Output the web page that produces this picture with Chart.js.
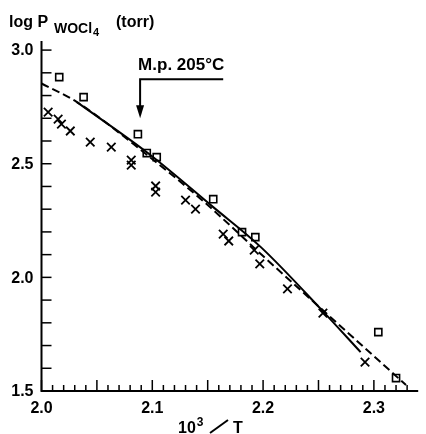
<!DOCTYPE html>
<html>
<head>
<meta charset="utf-8">
<script src="https://cdn.jsdelivr.net/npm/chart.js@4.4.0/dist/chart.umd.min.js"></script>
<style>
  html, body { margin: 0; padding: 0; background: #fff; }
  #wrap { width: 426px; height: 434px; }
</style>
</head>
<body>
<div id="wrap"><canvas id="vp"></canvas></div>
<script>
// measured points, crosses
const crossX = [2.006, 2.015, 2.018, 2.026, 2.044, 2.063, 2.081, 2.081, 2.103, 2.103,
                2.130, 2.139, 2.164, 2.169, 2.192, 2.197, 2.222, 2.254, 2.292];
const crossY = [2.727, 2.696, 2.674, 2.644, 2.595, 2.573, 2.516, 2.494, 2.402, 2.375,
                2.340, 2.300, 2.190, 2.160, 2.120, 2.059, 1.949, 1.843, 1.627];
// measured points, squares
const squareX = [2.016, 2.038, 2.087, 2.095, 2.104, 2.155, 2.181, 2.193, 2.304, 2.320];
const squareY = [2.881, 2.793, 2.630, 2.547, 2.529, 2.344, 2.199, 2.177, 1.759, 1.557];
// curves
const solidX = [2.032, 2.096, 2.155, 2.198, 2.253, 2.288];
const solidY = [2.771, 2.547, 2.309, 2.133, 1.856, 1.671];
const dashX = [2.000, 2.032, 2.096, 2.147, 2.199, 2.329];
const dashY = [2.853, 2.771, 2.536, 2.331, 2.098, 1.526];
// axes
const xMajor = [2.0, 2.1, 2.2, 2.3];
const xMajorLabels = ['2.0', '2.1', '2.2', '2.3'];
const yMajor = [1.5, 2.0, 2.5, 3.0];
const yMajorLabels = ['1.5', '2.0', '2.5', '3.0'];
const mpX = 2.089;

const FONT = '"Liberation Sans", Arial, sans-serif';

function pts(xs, ys) {
  return xs.map((x, i) => ({ x: x, y: ys[i] }));
}

const axesPlugin = {
  id: 'axesPlugin',
  afterDraw(chart) {
    const ctx = chart.ctx;
    const xs = chart.scales.x, ys = chart.scales.y;
    const a = chart.chartArea;
    ctx.save();
    ctx.strokeStyle = '#000';
    ctx.fillStyle = '#000';
    ctx.lineWidth = 2;
    // axis lines
    ctx.beginPath();
    ctx.moveTo(a.left, a.top);
    ctx.lineTo(a.left, a.bottom);
    ctx.lineTo(a.right, a.bottom);
    ctx.stroke();

    // y ticks every 0.1
    ctx.lineWidth = 1.5;
    for (let i = 15; i <= 30; i++) {
      const py = ys.getPixelForValue(i / 10);
      ctx.beginPath();
      ctx.moveTo(a.left, py);
      ctx.lineTo(a.left + 10, py);
      ctx.stroke();
    }
    // x ticks every 0.01
    for (let i = 200; i <= 233; i++) {
      const px = xs.getPixelForValue(i / 100);
      const len = (i % 5 === 0) ? 11 : 6;
      ctx.beginPath();
      ctx.moveTo(px, a.bottom);
      ctx.lineTo(px, a.bottom - len);
      ctx.stroke();
    }

    ctx.font = 'bold 16px ' + FONT;
    ctx.textAlign = 'right';
    ctx.textBaseline = 'middle';
    yMajor.forEach((v, i) => {
      ctx.fillText(yMajorLabels[i], a.left - 8, ys.getPixelForValue(v) + 1);
    });
    ctx.textAlign = 'center';
    xMajor.forEach((v, i) => {
      ctx.fillText(xMajorLabels[i], xs.getPixelForValue(v), a.bottom + 18);
    });

    // x title: 10^3 / T
    ctx.textAlign = 'left';
    ctx.textBaseline = 'alphabetic';
    let tx = 178, ty = 433;
    ctx.fillText('10', tx, ty);
    tx += ctx.measureText('10').width + 1;
    ctx.font = 'bold 12px ' + FONT;
    ctx.fillText('3', tx, ty - 7);
    ctx.lineWidth = 2;
    ctx.beginPath();
    ctx.moveTo(210, ty);
    ctx.lineTo(228, ty - 13);
    ctx.stroke();
    ctx.font = 'bold 16px ' + FONT;
    ctx.fillText('T', 233, ty);

    // y title: log P_WOCl4 (torr)
    ctx.fillText('log P', 9, 27);
    ctx.font = 'bold 14px ' + FONT;
    ctx.fillText('WOCl', 54, 33);
    const w = ctx.measureText('WOCl').width;
    ctx.font = 'bold 11px ' + FONT;
    ctx.fillText('4', 54 + w + 1, 36);
    ctx.font = 'bold 16px ' + FONT;
    ctx.fillText('(torr)', 116, 27);

    // melting point arrow
    const ax = xs.getPixelForValue(mpX);
    const ayTop = ys.getPixelForValue(2.872);
    const ayTip = ys.getPixelForValue(2.70);
    const axEnd = xs.getPixelForValue(2.164);
    ctx.lineWidth = 2;
    ctx.beginPath();
    ctx.moveTo(axEnd, ayTop);
    ctx.lineTo(ax, ayTop);
    ctx.lineTo(ax, ayTip - 10);
    ctx.stroke();
    ctx.beginPath();
    ctx.moveTo(ax - 4, ayTip - 13);
    ctx.lineTo(ax + 4, ayTip - 13);
    ctx.lineTo(ax, ayTip);
    ctx.closePath();
    ctx.fill();
    ctx.font = 'bold 17px ' + FONT;
    ctx.textAlign = 'left';
    ctx.fillText('M.p. 205\u00b0C', ax - 2, ayTop - 9);
    ctx.restore();
  }
};

new Chart(document.getElementById('vp'), {
  type: 'scatter',
  data: {
    datasets: [
      {
        label: 'solid',
        data: pts(solidX, solidY),
        showLine: true,
        borderColor: '#000',
        borderWidth: 2,
        pointRadius: 0,
        cubicInterpolationMode: 'monotone'
      },
      {
        label: 'dashed',
        data: pts(dashX, dashY),
        showLine: true,
        borderColor: '#000',
        borderWidth: 2,
        borderDash: [8, 4],
        pointRadius: 0,
        cubicInterpolationMode: 'monotone'
      },
      {
        label: 'crosses',
        data: pts(crossX, crossY),
        pointStyle: 'crossRot',
        pointRadius: 6,
        borderColor: '#000',
        borderWidth: 1.8
      },
      {
        label: 'squares',
        data: pts(squareX, squareY),
        pointStyle: 'rect',
        pointRadius: 5,
        backgroundColor: '#fff',
        borderColor: '#000',
        borderWidth: 1.6
      }
    ]
  },
  options: {
    responsive: true,
    maintainAspectRatio: false,
    animation: false,
    clip: false,
    layout: { padding: { left: 41.5, top: 41, right: 0.5, bottom: 43 } },
    scales: {
      x: { type: 'linear', min: 2.0, max: 2.34, display: false },
      y: { type: 'linear', min: 1.5, max: 3.04, display: false }
    },
    plugins: {
      legend: { display: false },
      tooltip: { enabled: false }
    }
  },
  plugins: [axesPlugin]
});
</script>
</body>
</html>
